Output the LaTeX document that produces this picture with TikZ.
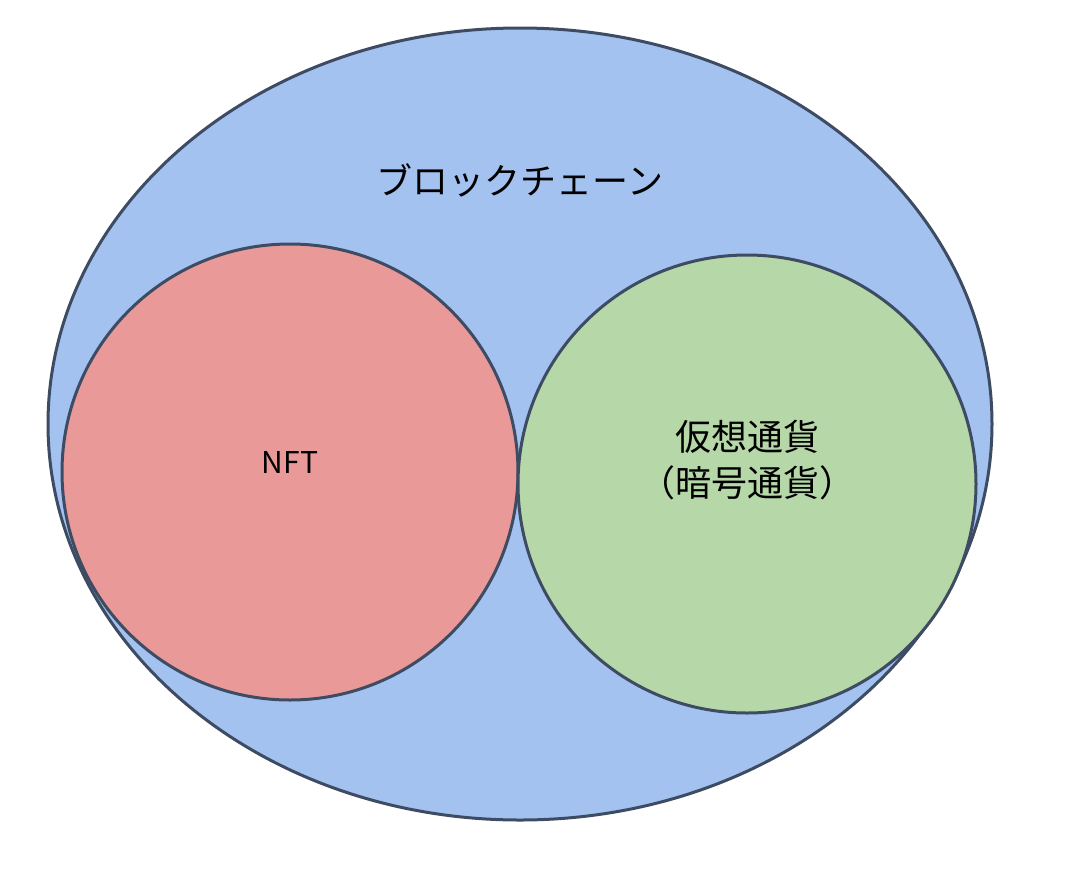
\documentclass[tikz,border=0pt]{standalone}
\usepackage{fontspec}
\newfontfamily\cjk{Noto Sans CJK JP}
\definecolor{bl}{HTML}{A4C2F0}
\definecolor{rd}{HTML}{EA9999}
\definecolor{gr}{HTML}{B6D7A8}
\definecolor{ln}{HTML}{3E4C63}
\begin{document}
\begin{tikzpicture}[x=1pt,y=-1pt,
  shp/.style={draw=ln,line width=3pt},
  lbl/.style={font=\cjk\fontsize{36}{46}\selectfont,align=center}]
\useasboundingbox (0,0) rectangle (1090,884);
\fill[white] (0,0) rectangle (1090,884);
\draw[shp,fill=bl] (520,424) ellipse [x radius=472, y radius=396];
\draw[shp,fill=rd] (290,472) circle [radius=228];
\draw[shp,fill=gr] (747,484) circle [radius=229];
\node[lbl] (bc) at (520,180) {ブロックチェーン};
\node[lbl,font=\cjk\fontsize{30}{36}\selectfont] (nft) at (290,462) {NFT};
\node[lbl] (cc) at (747,460) {仮想通貨\\（暗号通貨）};
\end{tikzpicture}
\end{document}
